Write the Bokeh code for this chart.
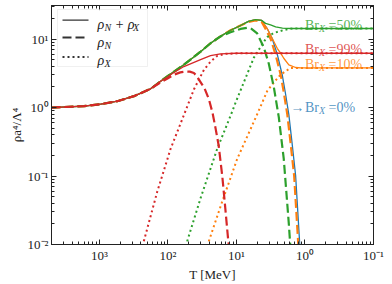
from bokeh.plotting import figure
from bokeh.models import Range1d, LogAxis, FixedTicker, Label, BoxAnnotation, Arrow
from bokeh.embed import file_html
from bokeh.resources import INLINE

# ---------------- data (T in MeV, rho a^4 / Lambda^4) -------------
T_common = [5000, 1675, 957, 547, 313, 179, 102, 58.5, 33.4, 23.9, 17.1, 12.2, 8.73, 6.67, 5.26, 4.30]
rho_common = [1.00, 1.05, 1.12, 1.24, 1.47, 1.88, 2.86, 4.22, 6.56, 8.71, 10.96, 13.5, 15.8, 18.2, 19.3, 18.8]

# Br_X = 0 %
T_tot_0 = [3.56, 3.01, 2.54, 2.15, 1.92, 1.72, 1.55, 1.37, 1.20, 1.16]
rho_tot_0 = [14.3, 10.2, 6.03, 3.02, 1.58, 0.79, 0.316, 0.102, 0.0112, 0.0063]

# Br_X = 10 %
T_tot_10 = [3.56, 3.01, 2.54, 2.28, 2.04, 1.72, 1.37, 1.16, 0.1]
rho_tot_10 = [14.3, 10.3, 7.35, 6.3, 5.26, 4.22, 3.85, 3.80, 3.80]
T_N_10 = [6.67, 5.26, 4.30, 3.74, 3.16, 2.67, 2.26, 2.02, 1.81, 1.63, 1.44, 1.26, 1.21]
rho_N_10 = [17.8, 18.7, 18.0, 14.0, 10.0, 5.8, 3.0, 1.58, 0.79, 0.316, 0.102, 0.0112, 0.0063]
T_X_10 = [27.3, 25.2, 16.1, 9.73, 6.22, 4.98, 3.56, 3.01, 2.28, 1.63, 1.16, 0.1]
rho_X_10 = [0.008, 0.0113, 0.0427, 0.179, 0.486, 0.80, 1.74, 2.17, 3.02, 3.78, 3.80, 3.80]

# Br_X = 50 %
T_tot_50 = [3.76, 3.18, 2.68, 2.13, 1.63, 0.1]
rho_tot_50 = [17.0, 16.2, 15.1, 14.45, 14.3, 14.3]
T_N_50 = [12.2, 8.73, 6.97, 6.03, 4.98, 3.99, 3.37, 2.85, 2.41, 2.04, 1.72, 1.63]
rho_N_50 = [12.6, 14.1, 14.6, 14.1, 12.1, 7.59, 4.37, 2.0, 0.724, 0.178, 0.020, 0.0089]
T_X_50 = [56.1, 52.1, 33.4, 19.1, 12.2, 10.3, 7.80, 5.57, 3.99, 3.56, 2.85, 2.04, 1.52, 0.1]
rho_X_50 = [0.008, 0.0113, 0.0475, 0.25, 0.757, 1.18, 2.34, 5.37, 9.14, 10.7, 12.3, 13.6, 14.3, 14.3]

# Br_X = 99 %
T_tot_99 = [128, 102, 81.8, 58.5, 33.4, 23.9, 17.1, 10.3, 0.1]
rho_tot_99 = [2.43, 2.80, 3.25, 3.98, 5.01, 5.75, 6.10, 6.22, 6.22]
T_N_99 = [128, 100, 81.8, 66, 55.2, 48, 41.8, 38.2, 35.3, 29.2, 25.2, 22.3, 20.2, 18.2, 16.1, 14.7, 13.3, 12.8]
rho_N_99 = [2.34, 2.69, 3.02, 3.27, 3.37, 3.35, 3.20, 2.92, 2.56, 1.91, 1.32, 0.832, 0.501, 0.282, 0.1, 0.038, 0.0126, 0.0089]
T_X_99 = [238, 224, 143, 91.4, 61.7, 41.8, 29.8, 23.9, 19.1, 14.4, 8.73, 0.1]
rho_X_99 = [0.008, 0.0113, 0.0593, 0.25, 0.678, 1.84, 3.57, 4.68, 5.69, 6.10, 6.22, 6.22]

x_major = [1000, 100, 10, 1, 0.1]
x_labels = ["10³", "10²", "10¹", "10⁰", "10⁻¹"]
y_major = [0.01, 0.1, 1, 10]
y_labels = ["10⁻²", "10⁻¹", "10⁰", "10¹"]

BLUE, ORANGE, GREEN, RED = "#1f77b4", "#ff7f0e", "#2ca02c", "#d62728"
FONT = "Liberation Serif"
INK = "#222222"

p = figure(width=392, height=284, x_axis_type="log", y_axis_type="log",
           x_range=Range1d(5000, 0.1), y_range=Range1d(0.01, 31),
           output_backend="svg", toolbar_location=None,
           min_border_left=51, min_border_right=19, min_border_top=5, min_border_bottom=37)
p.grid.visible = False
p.outline_line_color = INK
p.outline_line_width = 1
p.background_fill_color = "white"

x_minor = [10.0 ** k / m for k in range(0, 5) for m in range(2, 10)]
y_minor = [m * 10.0 ** k for k in range(-2, 2) for m in range(2, 10)]


def style_axis(ax, major, minor, labels, show):
    ax.ticker = FixedTicker(ticks=major, minor_ticks=minor)
    ax.axis_line_color = INK
    ax.major_tick_line_color = INK
    ax.minor_tick_line_color = INK
    ax.major_tick_in = 5
    ax.major_tick_out = 0
    ax.minor_tick_in = 3
    ax.minor_tick_out = 0
    if show:
        ax.major_label_overrides = dict(zip(major, labels))
        ax.major_label_text_font = FONT
        ax.major_label_text_font_size = "13px"
        ax.major_label_text_color = INK
        ax.major_label_standoff = 3
    else:
        ax.major_label_text_font_size = "1px"
        ax.major_label_text_alpha = 0
        ax.major_label_standoff = 0


style_axis(p.xaxis[0], x_major, x_minor, x_labels, True)
style_axis(p.yaxis[0], y_major, y_minor, y_labels, True)
p.xaxis[0].axis_label = "T [MeV]"
p.yaxis[0].axis_label = "ρa⁴/Λ⁴"
for ax in (p.xaxis[0], p.yaxis[0]):
    ax.axis_label_text_font = FONT
    ax.axis_label_text_font_size = "13px"
    ax.axis_label_text_font_style = "normal"
    ax.axis_label_text_color = INK
    ax.axis_label_standoff = 1

top = LogAxis()
style_axis(top, x_major, x_minor, x_labels, False)
p.add_layout(top, "above")
right = LogAxis()
style_axis(right, y_major, y_minor, y_labels, False)
p.add_layout(right, "right")

SOLID = dict(line_width=1.3)
DASHED = dict(line_width=2.2, line_dash="9 4")
DOTTED = dict(line_width=2.0, line_dash="2 3")

# Br = 0 %
p.line(T_common + T_tot_0, rho_common + rho_tot_0, color=BLUE, **SOLID)
# Br = 10 %
p.line(T_common + T_tot_10, rho_common + rho_tot_10, color=ORANGE, **SOLID)
p.line(T_common[:13] + T_N_10, rho_common[:13] + rho_N_10, color=ORANGE, **DASHED)
p.line(T_X_10, rho_X_10, color=ORANGE, **DOTTED)
# Br = 50 %
p.line(T_common + T_tot_50, rho_common + rho_tot_50, color=GREEN, **SOLID)
p.line(T_common[:11] + T_N_50, rho_common[:11] + rho_N_50, color=GREEN, **DASHED)
p.line(T_X_50, rho_X_50, color=GREEN, **DOTTED)
# Br = 99 %
p.line(T_common[:6] + T_tot_99, rho_common[:6] + rho_tot_99, color=RED, **SOLID)
p.line(T_common[:6] + T_N_99, rho_common[:6] + rho_N_99, color=RED, **DASHED)
p.line(T_X_99, rho_X_99, color=RED, **DOTTED)


def add_text(pieces, x, y, units, color, alpha=1.0):
    for txt, dx, dy, size, style in pieces:
        p.add_layout(Label(x=x, y=y, x_units=units, y_units=units, x_offset=dx, y_offset=dy,
                           text=txt, text_font=FONT, text_font_size=f"{size}px",
                           text_font_style=style, text_color=color, text_alpha=alpha,
                           text_baseline="alphabetic", text_align="left"))


# ---------------- legend (screen units, relative to the plot frame) -------------
p.add_layout(BoxAnnotation(left=6, right=96, bottom=178, top=235,
                           left_units="screen", right_units="screen",
                           top_units="screen", bottom_units="screen",
                           fill_color="white", fill_alpha=0.8,
                           line_color="#cccccc", line_width=1))
for yy, st in [(224.3, SOLID), (207, DASHED), (187.5, DOTTED)]:
    p.add_layout(Arrow(x_start=11, y_start=yy, x_end=37, y_end=yy,
                       start_units="screen", end_units="screen", end=None,
                       line_color="#333333", **st))

add_text([("ρ", 0, 0, 14, "italic"), ("N", 7, -3, 10, "italic"),
          ("+ ρ", 17.2, 0, 14, "italic"), ("X", 35.6, -3, 10, "italic")],
         46, 220, "screen", INK)
add_text([("ρ", 0, 0, 14, "italic"), ("N", 7, -3, 10, "italic")], 46, 202.5, "screen", INK)
add_text([("ρ", 0, 0, 14, "italic"), ("X", 7, -3, 10, "italic")], 46, 184, "screen", INK)


# ---------------- branching-ratio annotations (data units) -------------
def br_label(x, y, pct, color):
    add_text([("Br", 0, 0, 14, "normal"), ("X", 14, -3, 10, "italic"),
              (f"={pct}%", 23.6, 0, 14, "normal")], x, y, "data", color, 0.8)


br_label(1.0, 15.9, 50, GREEN)
br_label(1.0, 7.1, 99, RED)
br_label(1.0, 4.21, 10, ORANGE)
br_label(1.0, 1.0, 0, BLUE)
add_text([("→", 0, 0, 14, "normal")], 1.63, 1.0, "data", BLUE, 0.8)

open("out.html", "w").write(file_html(p, INLINE))
